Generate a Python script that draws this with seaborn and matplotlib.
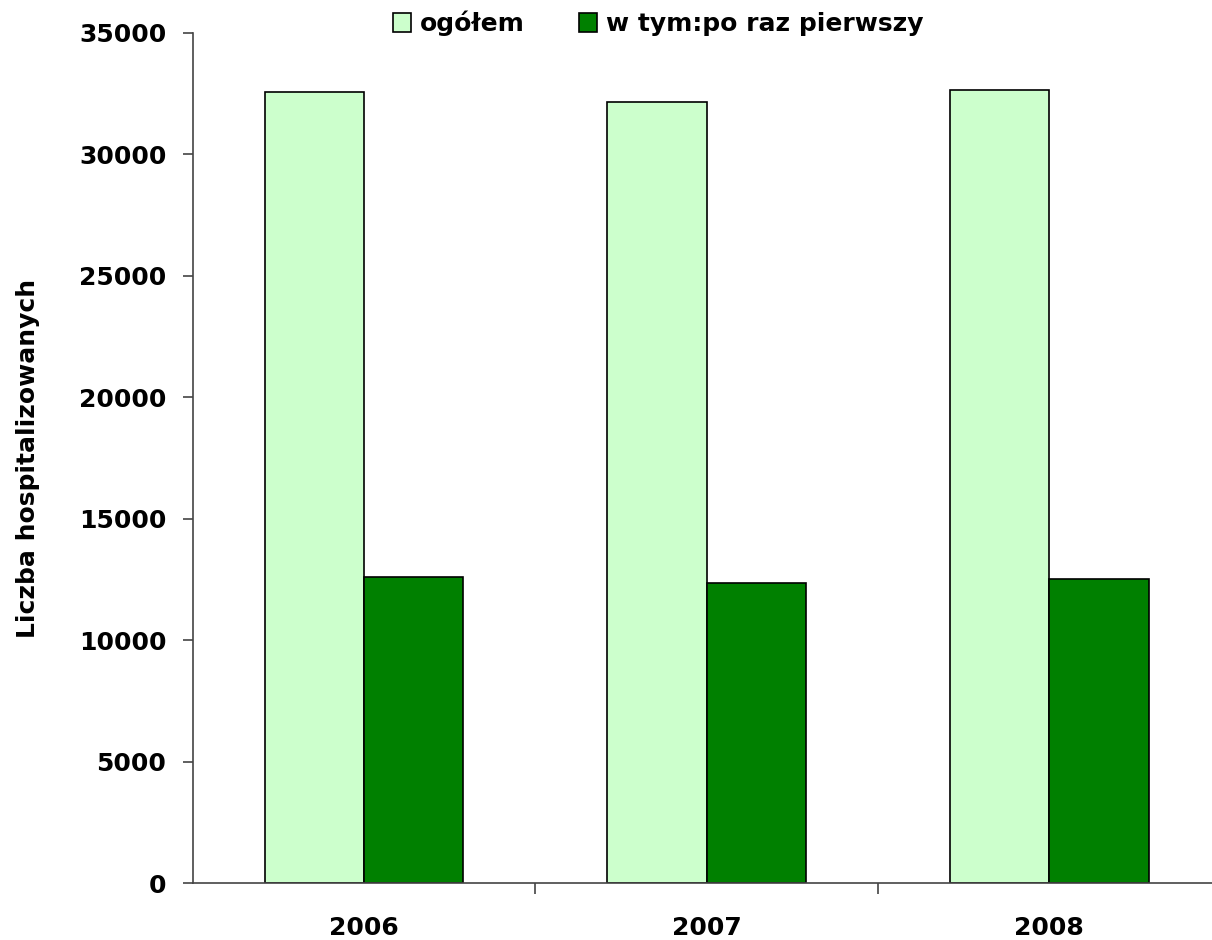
import pandas as pd
import matplotlib
matplotlib.use('Agg')
import matplotlib.pyplot as plt
import seaborn as sns

# Data
years = ['2006', '2007', '2008']
ogolem = [32570, 32160, 32650]
pierwszy = [12610, 12365, 12520]
series = ['ogółem', 'w tym:po raz pierwszy']

data = pd.DataFrame({
    'rok': years * 2,
    'liczba': ogolem + pierwszy,
    'grupa': [series[0]] * 3 + [series[1]] * 3,
})

sns.set_style('white')
plt.rcParams['font.family'] = ['DejaVu Sans']
plt.rcParams['text.color'] = 'black'
plt.rcParams['axes.labelcolor'] = 'black'
plt.rcParams['xtick.color'] = 'black'
plt.rcParams['ytick.color'] = 'black'

fs = 18

fig = plt.figure(figsize=(12.12, 9.40), dpi=100)
ax = fig.add_axes([0.159, 0.0606, 0.848, 0.9043])

sns.barplot(x='rok', y='liczba', hue='grupa', data=data, ax=ax,
            palette=['#CCFFCC', '#008000'], width=0.58, gap=0,
            edgecolor='black', linewidth=1.2, saturation=1, legend=True)

ax.set_ylim(0, 35000)
ax.set_xlim(-0.5, 2.5)
ax.set_yticks(range(0, 35001, 5000))
ax.set_yticklabels([str(v) for v in range(0, 35001, 5000)], fontsize=fs, fontweight='bold')
ax.set_xticks(range(3))
ax.set_xticklabels(years, fontsize=fs, fontweight='bold')
ax.set_xticks([0.5, 1.5], minor=True)
ax.tick_params(axis='x', which='major', length=0, pad=24, bottom=True)
ax.tick_params(axis='x', which='minor', length=8, width=1.2, color='#444444',
               direction='out', bottom=True)
ax.tick_params(axis='y', length=7, width=1.2, color='#444444', direction='out',
               left=True, pad=12)
ax.set_xlabel('')
ax.set_ylabel('Liczba hospitalizowanych', fontsize=fs, fontweight='bold', labelpad=28)

for side in ['top', 'right']:
    ax.spines[side].set_visible(False)
for side in ['left', 'bottom']:
    ax.spines[side].set_color('#444444')
    ax.spines[side].set_linewidth(1.2)

handles, labels = ax.get_legend_handles_labels()
ax.get_legend().remove()
fig.legend(handles, labels, loc='upper center', bbox_to_anchor=(0.543, 1.013), ncol=2,
           frameon=False, prop={'size': fs, 'weight': 'bold'},
           handlelength=0.7, handleheight=0.8, handletextpad=0.35, columnspacing=2.2)

fig.savefig('out.png', dpi=100)
